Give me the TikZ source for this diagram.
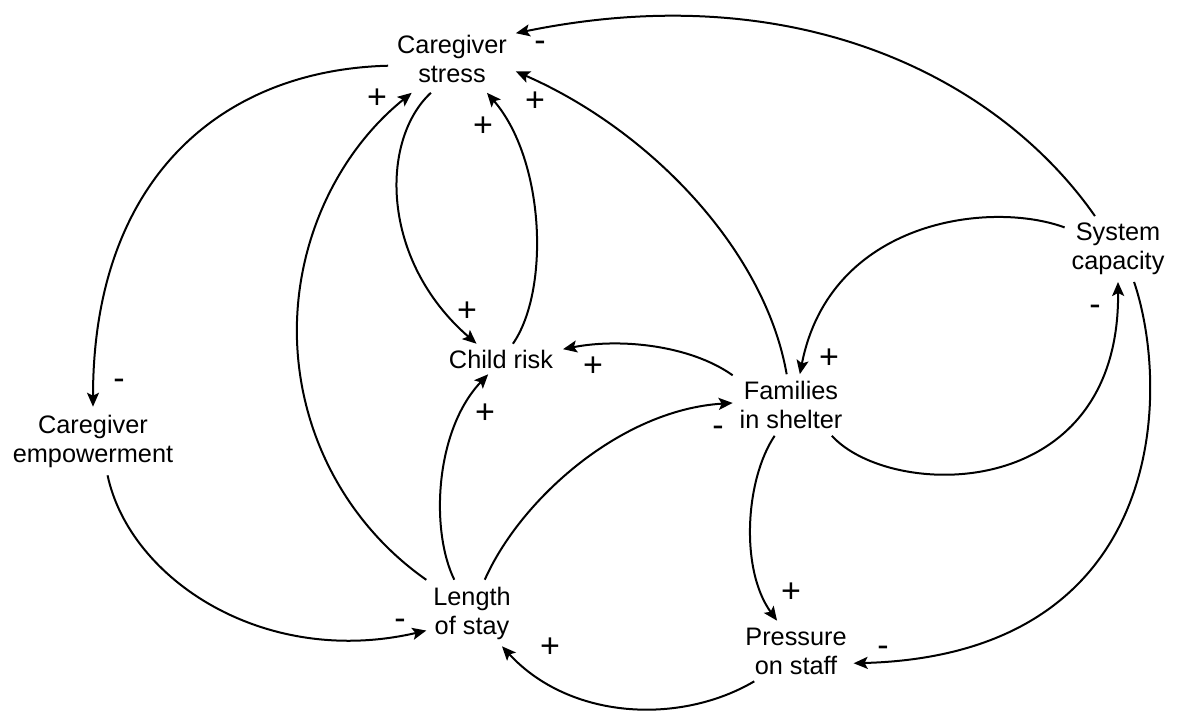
\documentclass[tikz,border=0pt]{standalone}
\usepackage{fontspec}
\setmainfont{Liberation Sans}
\usetikzlibrary{arrows.meta}
\begin{document}
\begin{tikzpicture}[x=0.5pt,y=-0.5pt,
  var/.style={font=\fontsize{12.65}{14.5}\selectfont, align=center, inner xsep=3.5pt, inner ysep=3.5pt, outer sep=0pt},
  pol/.style={font=\fontsize{17}{19}\selectfont, inner sep=0pt},
  link/.style={line width=1pt, -{Stealth[length=7pt,width=6pt,inset=1.5pt]}}]
\fill[white] (0,0) rectangle (1182,719);
\useasboundingbox (0,0) rectangle (1182,719);

\node[var, inner xsep=4.5pt, inner ysep=5pt] (cs) at (452,59) {Caregiver\\stress};
\node[var, inner xsep=5pt, inner ysep=3pt] (cr) at (501,359) {Child risk};
\node[var] (fs) at (791,405) {Families\\in shelter};
\node[var] (los) at (472,613) {Length\\of stay};
\node[var] (pos) at (796,651) {Pressure\\on staff};
\node[var] (sc) at (1118,249) {System\\capacity};
\node[var, inner ysep=4pt] (ce) at (93,441) {Caregiver\\empowerment};

% connectors
\draw[link] (cs.186) .. controls (220,70) and (93,180) .. (ce.90);
\draw[link] (ce.293) .. controls (130,580) and (265,668) .. (los.201);
\draw[link] (los.144) .. controls (348,525) and (300,436) .. (297,340) .. controls (294,244) and (337,153) .. (cs.220);
\draw[link] (cs.238) .. controls (380,140) and (380,260) .. (cr.148);
\draw[link] (cr.52) .. controls (550,290) and (545,160) .. (cs.316);
\draw[link] (los.118) .. controls (430,530) and (435,430) .. (cr.230);
\draw[link] (fs.153) .. controls (690,345) and (620,338) .. (cr.9);
\draw[link] (los.69) .. controls (520,500) and (620,410) .. (fs.178);
\draw[link] (fs.98) .. controls (765,250) and (650,130) .. (cs.349);
\draw[link] (sc.125) .. controls (1000,80) and (800,-25) .. (cs.22);
\draw[link] (sc.158) .. controls (990,200) and (830,220) .. (fs.74);
\draw[link] (fs.323) .. controls (890,500) and (1120,505) .. (sc.270);
\draw[link] (sc.296) .. controls (1172,395) and (1165,655) .. (pos.348);
\draw[link] (fs.242) .. controls (745,480) and (740,570) .. (pos.122);
\draw[link] (pos.216) .. controls (680,725) and (570,720) .. (los.312);

% polarity labels
\node[pol] (p1) at (540,46) {-};
\node[pol] (p2) at (377,99) {+};
\node[pol] (p3) at (483,127) {+};
\node[pol] (p4) at (535,102) {+};
\node[pol] (p5) at (467,312) {+};
\node[pol] (p6) at (593,367) {+};
\node[pol] (p7) at (485,414) {+};
\node[pol] (p8) at (829,359) {+};
\node[pol] (p9) at (718,431) {-};
\node[pol] (p10) at (400,624) {-};
\node[pol] (p11) at (550,648) {+};
\node[pol] (p12) at (791,593) {+};
\node[pol] (p13) at (883,651) {-};
\node[pol] (p14) at (1095,310) {-};
\node[pol] (p15) at (119,384) {-};
\end{tikzpicture}
\end{document}
